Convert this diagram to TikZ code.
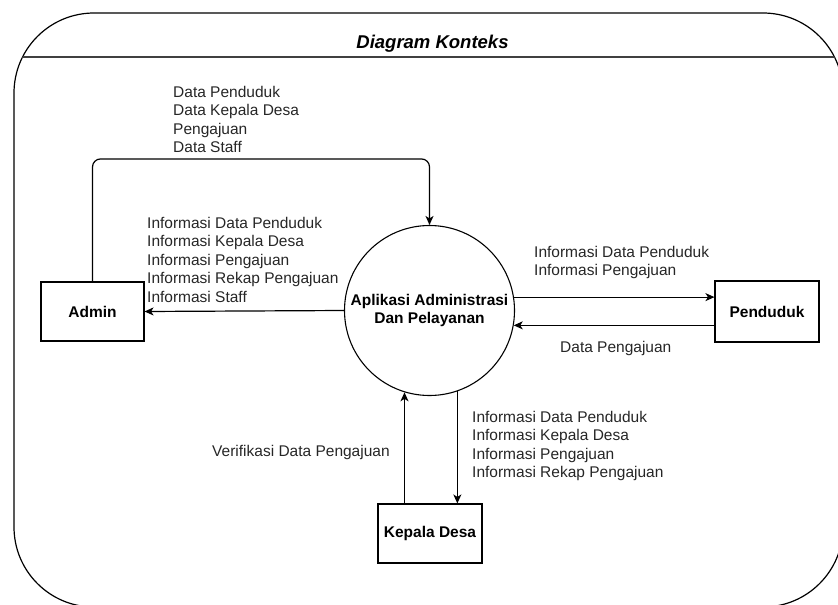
\documentclass[tikz,border=0pt]{standalone}
\usepackage{fontspec}
\setmainfont{Liberation Sans}
\usetikzlibrary{arrows.meta,calc}
\tikzset{
  lblfont/.style={font=\fontsize{15.5}{18.5}\selectfont},
  entity/.style={draw, line width=1.1pt, rectangle, minimum width=103pt, minimum height=59pt, inner sep=0pt, font=\fontsize{15.5}{18.5}\selectfont\bfseries},
  proc/.style={draw, line width=1.1pt, circle, minimum size=170pt, inner sep=0pt, align=center, font=\fontsize{15.5}{18}\selectfont\bfseries},
  flow/.style={line width=1.2pt, -{Stealth[length=9pt,width=8pt,inset=2.5pt]}},
  flowlbl/.style={lblfont, align=left, anchor=north west, inner sep=0pt, text=black!85},
  frame/.style={line width=1.2pt, rounded corners=80pt},
}
\begin{document}
\begin{tikzpicture}[x=1pt,y=-1pt]
\useasboundingbox (0,0) rectangle (838,605);
% outer swimlane frame
\begin{scope}
  \clip (0,0) rectangle (838,605);
  \draw[frame] (14,13) rectangle (843,607);
  \begin{scope}
    \clip[rounded corners=80pt] (14,13) rectangle (843,607);
    \draw[line width=1.3pt, black!75] (0,57) -- (850,57);
  \end{scope}
\end{scope}
\node[font=\fontsize{18.5}{20}\selectfont\bfseries\itshape] (title) at (432.5,44) {Diagram Konteks};

% nodes
\node[proc] (proc) at (429.5,310.5) {Aplikasi Administrasi\\Dan Pelayanan};
\node[entity] (admin) at (92.5,311.5) {Admin};
\node[entity, minimum width=104pt, minimum height=61pt] (pend) at (767,311.5) {Penduduk};
\node[entity, minimum width=104pt] (kades) at (430,533.5) {Kepala Desa};

% connectors
\draw[flow, rounded corners=8pt] (admin.north) |- ($(proc.north)+(0,-66)$) -- (proc.north);
\draw[flow] (proc.west) -- (admin.east);
\draw[flow] (proc.9) -- (pend.west |- proc.9);
\draw[flow] (pend.west |- proc.-10.5) -- (proc.-10.5);
\draw[flow] (kades.north -| proc.-107.5) -- (proc.-107.5);
\draw[flow] (proc.-71.8) -- (kades.north -| proc.-71.8);

% labels
\node[flowlbl] (l1) at (173,86) {Data Penduduk\\Data Kepala Desa\\Pengajuan\\Data Staff};
\node[flowlbl] (l2) at (147,217) {Informasi Data Penduduk\\Informasi Kepala Desa\\Informasi Pengajuan\\Informasi Rekap Pengajuan\\Informasi Staff};
\node[flowlbl] (l3) at (534,246) {Informasi Data Penduduk\\Informasi Pengajuan};
\node[flowlbl] (l4) at (560,341) {Data Pengajuan};
\node[flowlbl] (l5) at (212,445) {Verifikasi Data Pengajuan};
\node[flowlbl] (l6) at (472,411) {Informasi Data Penduduk\\Informasi Kepala Desa\\Informasi Pengajuan\\Informasi Rekap Pengajuan};
\end{tikzpicture}
\end{document}
